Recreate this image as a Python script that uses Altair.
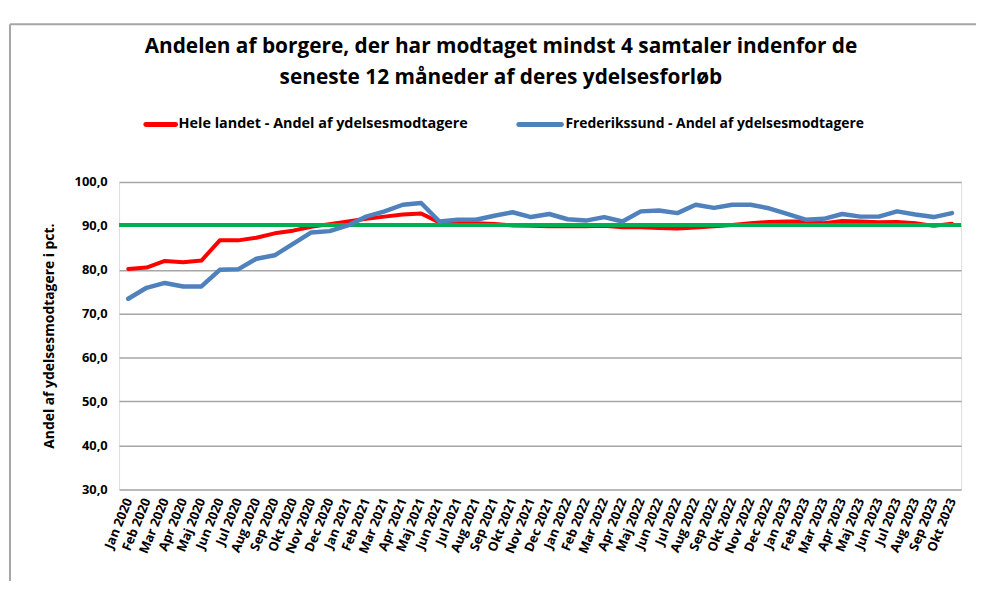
import altair as alt
import pandas as pd

months = [
    "Jan 2020", "Feb 2020", "Mar 2020", "Apr 2020", "Maj 2020", "Jun 2020",
    "Jul 2020", "Aug 2020", "Sep 2020", "Okt 2020", "Nov 2020", "Dec 2020",
    "Jan 2021", "Feb 2021", "Mar 2021", "Apr 2021", "Maj 2021", "Jun 2021",
    "Jul 2021", "Aug 2021", "Sep 2021", "Okt 2021", "Nov 2021", "Dec 2021",
    "Jan 2022", "Feb 2022", "Mar 2022", "Apr 2022", "Maj 2022", "Jun 2022",
    "Jul 2022", "Aug 2022", "Sep 2022", "Okt 2022", "Nov 2022", "Dec 2022",
    "Jan 2023", "Feb 2023", "Mar 2023", "Apr 2023", "Maj 2023", "Jun 2023",
    "Jul 2023", "Aug 2023", "Sep 2023", "Okt 2023",
]

hele_landet = [
    80.2, 80.5, 82.0, 81.7, 82.1, 86.7, 86.7, 87.3, 88.3, 88.9, 89.8, 90.4,
    91.0, 91.6, 92.1, 92.6, 92.8, 90.8, 90.6, 90.6, 90.4, 90.1, 90.0, 89.9,
    89.9, 89.9, 90.0, 89.7, 89.7, 89.5, 89.4, 89.6, 89.9, 90.2, 90.6, 90.9,
    91.0, 91.0, 90.6, 91.1, 91.0, 90.8, 90.9, 90.6, 90.0, 90.5,
]

frederikssund = [
    73.4, 75.9, 77.0, 76.2, 76.2, 80.0, 80.1, 82.5, 83.3, 85.9, 88.5, 88.8,
    90.1, 92.1, 93.3, 94.8, 95.2, 91.0, 91.4, 91.4, 92.3, 93.1, 92.0, 92.7,
    91.5, 91.2, 92.0, 91.0, 93.3, 93.5, 92.9, 94.8, 94.1, 94.8, 94.8, 94.0,
    92.7, 91.4, 91.6, 92.7, 92.1, 92.1, 93.3, 92.6, 92.0, 92.9,
]

target = [90.2]

title_lines = [
    "Andelen af borgere, der har modtaget mindst 4 samtaler indenfor de",
    "seneste 12 måneder af deres ydelsesforløb",
]
legend_labels = [
    "Hele landet - Andel af ydelsesmodtagere",
    "Frederikssund - Andel af ydelsesmodtagere",
]
y_ticks = [30, 40, 50, 60, 70, 80, 90, 100]

RED = "#ff0000"
BLUE = "#4f81bd"
GREEN = "#00b050"
GRID = "#a6a6a6"
FONT = "Open Sans"

x_enc = alt.X(
    "Måned:N",
    sort=months,
    scale=alt.Scale(type="point", padding=0.5),
    axis=alt.Axis(
        title=None, labelAngle=-68, ticks=False, domain=False, grid=False,
        labelFontSize=13, labelFontWeight="bold", labelColor="#000000",
        labelPadding=9, labelFont=FONT, labelOverlap=False,
    ),
)

y_enc = alt.Y(
    "Andel:Q",
    scale=alt.Scale(domain=[30, 100], nice=False, zero=False),
    axis=alt.Axis(
        values=y_ticks,
        labelExpr="replace(format(datum.value, '.1f'), '.', ',')",
        ticks=False, domain=False, grid=True, gridColor=GRID, gridWidth=1.5,
        labelFontSize=13, labelFontWeight="bold", labelColor="#000000",
        labelPadding=12, labelFont=FONT,
        title="Andel af ydelsesmodtagere i pct.",
        titleFontSize=14, titleFontWeight="bold", titleColor="#000000",
        titleFont=FONT, titlePadding=18,
    ),
)

df_red = pd.DataFrame({"Måned": months, "Andel": hele_landet})
df_blue = pd.DataFrame({"Måned": months, "Andel": frederikssund})
df_target = pd.DataFrame({"Andel": target})

red_line = alt.Chart(df_red).mark_line(
    color=RED, strokeWidth=4, strokeJoin="round", strokeCap="round"
).encode(x=x_enc, y=y_enc)

green_line = alt.Chart(df_target).mark_rule(
    color=GREEN, strokeWidth=4
).encode(y=y_enc)

blue_line = alt.Chart(df_blue).mark_line(
    color=BLUE, strokeWidth=4.5, strokeJoin="round", strokeCap="round"
).encode(x=x_enc, y=y_enc)

# Title lines
t1 = alt.Chart(pd.DataFrame({"t": [title_lines[0]]})).mark_text(
    font=FONT, fontSize=21, fontWeight="bold", color="#000000",
    align="center", baseline="middle"
).encode(text="t:N", x=alt.value(385), y=alt.value(-136))
t2 = alt.Chart(pd.DataFrame({"t": [title_lines[1]]})).mark_text(
    font=FONT, fontSize=21, fontWeight="bold", color="#000000",
    align="center", baseline="middle"
).encode(text="t:N", x=alt.value(385), y=alt.value(-105))

# Legend
leg_red_line = alt.Chart(pd.DataFrame({"k": [legend_labels[0]]})).mark_rule(
    color=RED, strokeWidth=5, strokeCap="round"
).encode(x=alt.value(27), x2=alt.value(57), y=alt.value(-58))
leg_red_text = alt.Chart(pd.DataFrame({"t": [legend_labels[0]]})).mark_text(
    font=FONT, fontSize=14.5, fontWeight="bold", color="#000000",
    align="left", baseline="middle"
).encode(text="t:N", x=alt.value(60), y=alt.value(-58))
leg_blue_line = alt.Chart(pd.DataFrame({"k": [legend_labels[1]]})).mark_rule(
    color=BLUE, strokeWidth=5, strokeCap="round"
).encode(x=alt.value(403), x2=alt.value(446), y=alt.value(-58))
leg_blue_text = alt.Chart(pd.DataFrame({"t": [legend_labels[1]]})).mark_text(
    font=FONT, fontSize=14, fontWeight="bold", color="#000000",
    align="left", baseline="middle"
).encode(text="t:N", x=alt.value(450), y=alt.value(-58))

# Outer frame (grey border of the chart object)
frame_v = alt.Chart(pd.DataFrame({"k": [0]})).mark_rule(
    color=GRID, strokeWidth=2
).encode(x=alt.value(-110), y=alt.value(-159), y2=alt.value(420))
frame_h = alt.Chart(pd.DataFrame({"k": [0]})).mark_rule(
    color=GRID, strokeWidth=2
).encode(x=alt.value(-110), x2=alt.value(900), y=alt.value(-159))

chart = alt.layer(
    frame_v, frame_h,
    red_line, green_line, blue_line,
    t1, t2,
    leg_red_line, leg_red_text, leg_blue_line, leg_blue_text,
).properties(
    width=849,
    height=310,
    padding={"left": 112, "top": 173, "right": 15, "bottom": 90},
    autosize=alt.AutoSizeParams(type="none"),
).configure_view(
    stroke=GRID, strokeWidth=1.5
).configure(
    font=FONT, background="#ffffff"
)

chart.save("out.html", embed_options={"renderer": "svg", "actions": False})
